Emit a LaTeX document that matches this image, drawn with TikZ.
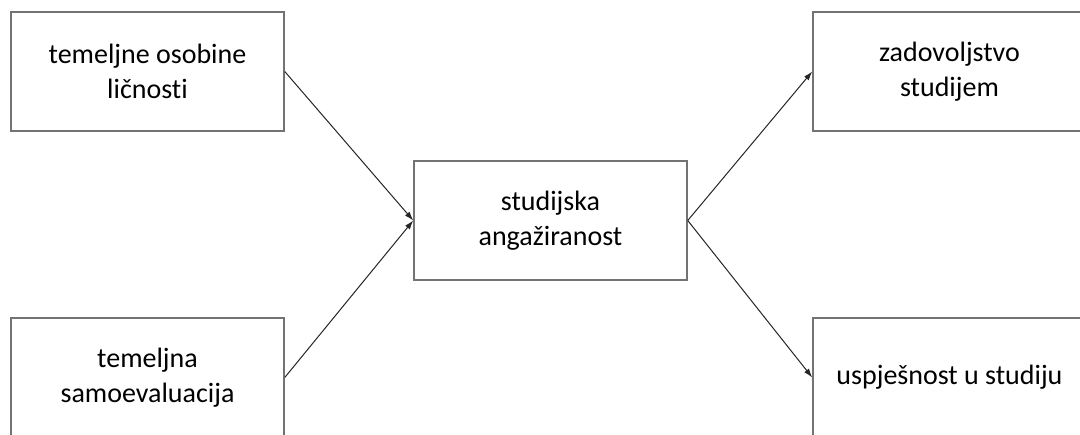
\documentclass[tikz,border=0pt]{standalone}
\usepackage{fontspec}
\setmainfont{Carlito}[Ligatures={NoCommon,NoRare,NoContextual}]
\usepackage{tikz}
\usetikzlibrary{arrows.meta,positioning}

\begin{document}
\begin{tikzpicture}[x=1pt,y=-1pt,
  box/.style={draw=black!55, line width=1.5pt, fill=white, minimum width=273pt, minimum height=119pt,
    align=center, inner sep=0pt, font=\fontsize{28}{35}\selectfont},
  link/.style={draw=black!85, line width=1pt, -{Latex[length=9pt,width=6pt]}}]
\useasboundingbox (0,0) rectangle (1080,435);
\clip (0,0) rectangle (1080,435);
\fill[white] (0,0) rectangle (1080,435);
%Left boxes
\node[box] (osobine) at (147.5,71.5) {temeljne osobine\\ličnosti};
\node[box] (samoeval) at (147.5,377.5) {temeljna\\samoevaluacija};
%Middle box
\node[box] (angaz) at (550.5,220.5) {studijska\\angažiranost};
%Right boxes
\node[box] (zadov) at (949.5,71.5) {zadovoljstvo\\studijem};
\node[box] (uspjeh) at (949.5,377.5) {uspješnost u studiju};

\draw[link] (osobine.east) -- (angaz.west);
\draw[link] (samoeval.east) -- (angaz.west);
\draw[link] (angaz.east) -- (zadov.west);
\draw[link] (angaz.east) -- (uspjeh.west);
\end{tikzpicture}
\end{document}
